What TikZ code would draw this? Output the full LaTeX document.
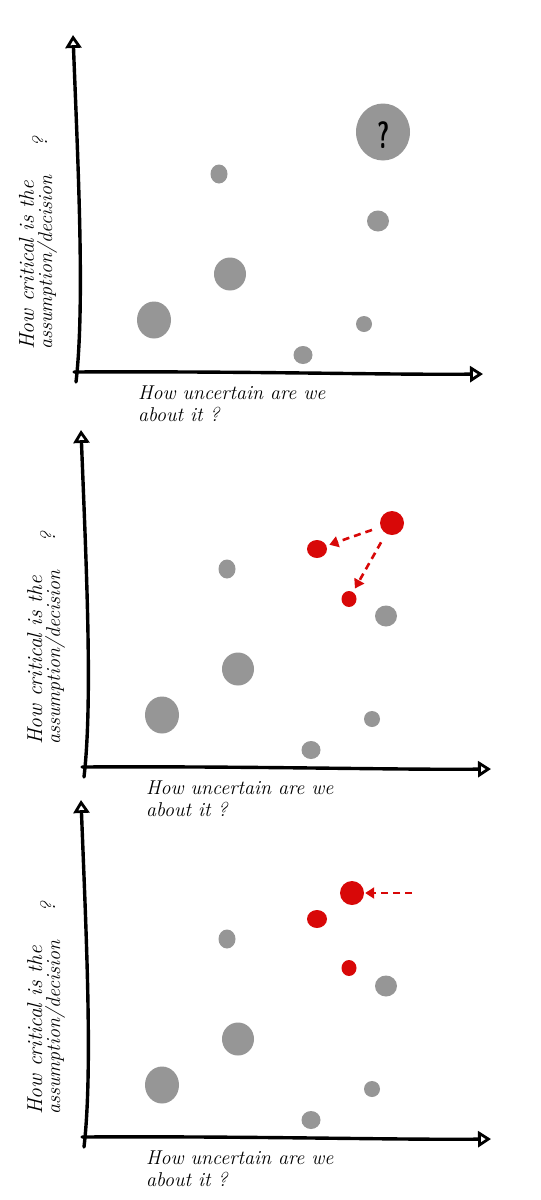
\documentclass[tikz,border=0pt]{standalone}
\usepackage{fontspec}
\usetikzlibrary{arrows.meta,shapes.geometric}
\definecolor{dotgray}{RGB}{150,150,150}
\definecolor{dotred}{RGB}{216,8,8}
\tikzset{
  axisline/.style={line width=3.4pt, line cap=round, line join=round,
    -{Triangle[open,length=13pt,width=16pt,line width=2.8pt]}},
  gdot/.style={ellipse, fill=dotgray, inner sep=0pt},
  rdot/.style={ellipse, fill=dotred, inner sep=0pt},
  redarrow/.style={draw=dotred, line width=2.6pt, dash pattern=on 7pt off 5pt,
    -{Triangle[length=9pt,width=11pt]}},
  xlab/.style={anchor=base west, inner sep=0pt, font=\itshape\fontsize{20}{20}\selectfont},
  ylab/.style={anchor=base west, inner sep=0pt, rotate=90, font=\itshape\fontsize{#1}{#1}\selectfont},
}
\newcommand{\basepanel}[2]{%
\begin{scope}[shift={#2}]
  \coordinate (#1yb) at (84,777);
  \coordinate (#1yt) at (81,430);
  \coordinate (#1xl) at (82,767);
  \coordinate (#1xt) at (491,769);
  \draw[axisline] (#1yb) .. controls (93,700) and (86,560) .. (#1yt);
  \draw[axisline] (#1xl) .. controls (250,766) and (400,770) .. (#1xt);
  \node[xlab] (#1xa) at (146,794) {How uncertain are we};
  \node[xlab] (#1xb) at (146,816) {about it ?};
  \node[ylab=21.5] (#1ya) at (42,745) {How critical is the};
  \node[ylab=20] (#1yc) at (60,745) {assumption/decision};
  \node[ylab=21] (#1yq) at (55,543) {?};
  \node[gdot, minimum width=17pt, minimum height=19pt] (#1g1) at (227,569) {};
  \node[gdot, minimum width=22pt, minimum height=21pt] (#1g2) at (386,616) {};
  \node[gdot, minimum width=32pt, minimum height=33pt] (#1g3) at (238,669) {};
  \node[gdot, minimum width=34pt, minimum height=37pt] (#1g4) at (162,715) {};
  \node[gdot, minimum width=16pt, minimum height=16pt] (#1g5) at (372,719) {};
  \node[gdot, minimum width=19pt, minimum height=18pt] (#1g6) at (311,750) {};
\end{scope}}
\begin{document}
\begin{tikzpicture}[x=1pt,y=-1pt]
  \path[use as bounding box, fill=white] (0,0) rectangle (541,1200);
  % panel 1
  \basepanel{a}{(-8,-395)}
  \node[gdot, minimum width=54pt, minimum height=57pt] (abig) at (383,132) {};
  \node[font=\sffamily\bfseries\fontsize{38}{38}\selectfont, xscale=0.62, inner sep=0pt] (aq) at (384,135.5) {?};
  % panel 2
  \basepanel{b}{(0,0)}
  \node[rdot, minimum width=24pt, minimum height=24pt] (br1) at (392,523) {};
  \node[rdot, minimum width=20pt, minimum height=18pt] (br2) at (317,549) {};
  \node[rdot, minimum width=15pt, minimum height=16pt] (br3) at (349,599) {};
  \draw[redarrow, shorten <=9pt, shorten >=3pt] (br1) -- (br2);
  \draw[redarrow, shorten <=10pt, shorten >=4pt] (br1) -- (br3);
  % panel 3
  \basepanel{c}{(0,370)}
  \node[rdot, minimum width=24pt, minimum height=24pt] (cr1) at (352,893) {};
  \node[rdot, minimum width=20pt, minimum height=18pt] (cr2) at (317,919) {};
  \node[rdot, minimum width=15pt, minimum height=16pt] (cr3) at (349,968) {};
  \coordinate (cstart) at (412,893);
  \draw[redarrow, shorten >=1pt] (cstart) -- (cr1);
\end{tikzpicture}
\end{document}
